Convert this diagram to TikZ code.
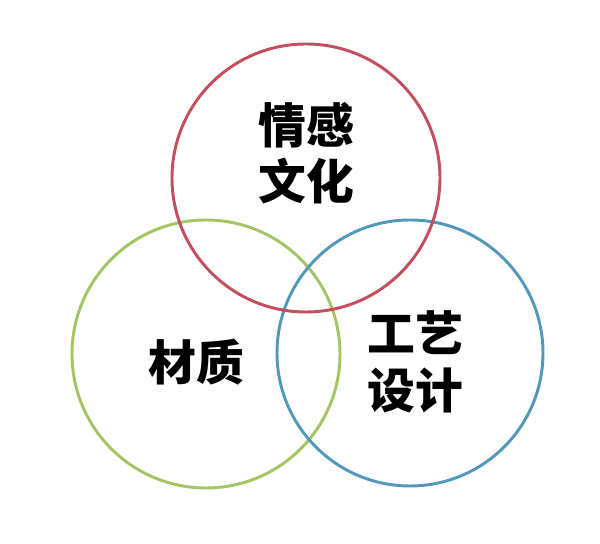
\documentclass[tikz,border=0pt]{standalone}
\usepackage{fontspec}
\usepackage{tkz-euclide}
\newfontfamily\cjk{Noto Sans CJK SC}
\definecolor{emored}{RGB}{196,77,94}
\definecolor{matgreen}{RGB}{165,196,100}
\definecolor{craftblue}{RGB}{82,152,186}
\begin{document}
\begin{tikzpicture}
\useasboundingbox (0,0) rectangle (15,13.6);

\tkzDefPoint(5.15,4.75){Mat}
\tkzDefPoint(8.5,4.75){tMat}
\tkzDrawCircle[line width=2.1pt,draw=matgreen](Mat,tMat)

\tkzDefPoint(10.25,4.775){Craft}
\tkzDefPoint(13.575,4.775){tCraft}
\tkzDrawCircle[line width=2.1pt,draw=craftblue](Craft,tCraft)

\tkzDefPoint(7.65,9.15){Emo}
\tkzDefPoint(11,9.15){tEmo}
\tkzDrawCircle[line width=2.1pt,draw=emored](Emo,tEmo)


  \tkzDefPoint(7.65,9.775){lEmo}
  \tkzDefPoint(4.9,4.55){lMat}
  \tkzDefPoint(10.375,4.55){lCraft}

\tkzLabelPoint[anchor=center,align=center,font=\cjk\bfseries\fontsize{34}{40}\selectfont](lEmo){情感\\文化}
\tkzLabelPoint[anchor=center,align=center,font=\cjk\bfseries\fontsize{34}{40}\selectfont](lMat){材质}
\tkzLabelPoint[anchor=center,align=center,font=\cjk\bfseries\fontsize{34}{40}\selectfont](lCraft){工艺\\设计}

\end{tikzpicture}
\end{document}
